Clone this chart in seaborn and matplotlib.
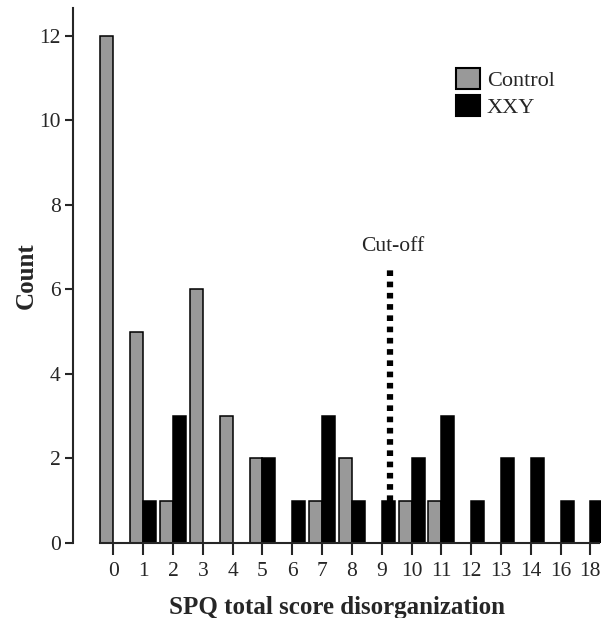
import pandas as pd
import seaborn as sns
import matplotlib.pyplot as plt

# SPQ disorganization scores (no 15 or 17 in the data)
scores = ["0", "1", "2", "3", "4", "5", "6", "7", "8", "9", "10",
          "11", "12", "13", "14", "16", "18"]
control = [12, 5, 1, 6, 3, 2, 0, 1, 2, 0, 1, 1, 0, 0, 0, 0, 0]
xxy = [0, 1, 3, 0, 0, 2, 1, 3, 1, 1, 2, 3, 1, 2, 2, 1, 1]
groups = ["Control", "XXY"]

cutoff_pos = 9.27
cutoff_top = 6.45

df = pd.DataFrame({
    "score": scores * 2,
    "count": control + xxy,
    "group": [groups[0]] * len(scores) + [groups[1]] * len(scores),
})

sns.set_style("ticks")
plt.rcParams["font.family"] = ["Liberation Serif", "DejaVu Serif"]

fig = plt.figure(figsize=(6.1, 6.18), dpi=100)
ax = fig.add_axes([0.12, 0.1214, 0.865, 0.865])

sns.barplot(
    data=df, x="score", y="count", hue="group", order=scores,
    hue_order=groups, palette={"Control": "#999999", "XXY": "black"},
    width=0.87, gap=0, edgecolor="black", linewidth=1.1, ax=ax,
)

# cut-off marker
ax.plot([cutoff_pos, cutoff_pos], [1.0, cutoff_top], color="black",
        lw=4.5, linestyle=(0, (0.9, 0.9)), dash_capstyle="butt")
ax.text(cutoff_pos + 0.1, cutoff_top + 0.35, "Cut-off", ha="center",
        va="bottom", fontsize=15.5)

ax.set_xlim(-1.35, 16.35)
ax.set_ylim(0, 12.65)
ax.set_yticks(range(0, 13, 2))
sns.despine(ax=ax)
ax.spines["bottom"].set_bounds(-0.45, 16.3)
ax.spines["left"].set_bounds(0, 12.65)
for s in ["left", "bottom"]:
    ax.spines[s].set_linewidth(1.5)
ax.tick_params(axis="y", length=6, width=1.5, labelsize=15.5, pad=3)
ax.tick_params(axis="x", length=8.5, width=1.5, labelsize=15.5, pad=5)

ax.set_xlabel("SPQ total score disorganization", fontsize=18,
              fontweight="bold", labelpad=11)
ax.set_ylabel("Count", fontsize=18, fontweight="bold", labelpad=1)

leg = ax.legend(loc="upper left", bbox_to_anchor=(456 / 610, 1 - 68 / 618),
                bbox_transform=fig.transFigure, frameon=False, fontsize=16,
                handlelength=1.08, handleheight=1.05, handletextpad=0.3,
                labelspacing=0.2, borderpad=0, borderaxespad=0)
for h in leg.legend_handles:
    h.set_edgecolor("black")
    h.set_linewidth(1.5)

fig.savefig("out.png", dpi=100)
